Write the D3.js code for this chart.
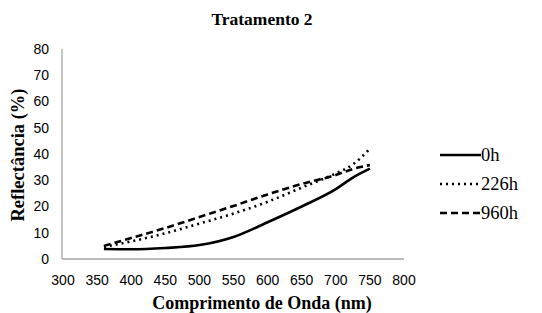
<!DOCTYPE html>
<html>
<head>
<meta charset="utf-8">
<script src="https://cdn.jsdelivr.net/npm/d3@7"></script>
<style>
  body { margin: 0; background: #fff; }
</style>
</head>
<body>
<div id="chart"></div>
<script>
// Data
const wavelengths = [360, 400, 450, 500, 550, 600, 650, 700, 725, 750];
const series0h   = [3.8, 3.7, 4.2, 5.3, 8.4, 14.0, 20.0, 26.6, 31.0, 34.4];
const series226h = [4.6, 6.7, 9.8, 13.5, 17.3, 21.8, 27.2, 32.6, 36.0, 42.0];
const series960h = [5.0, 8.0, 11.8, 16.0, 20.2, 24.6, 28.6, 32.0, 34.3, 35.8];
const xTicks = [300, 350, 400, 450, 500, 550, 600, 650, 700, 750, 800];
const yTicks = [0, 10, 20, 30, 40, 50, 60, 70, 80];
const seriesNames = ["0h", "226h", "960h"];
const dashes = [null, "2,4", "7,4"];

const width = 542;
const height = 313;

const svg = d3.select("#chart")
    .append("svg")
    .attr("width", width)
    .attr("height", height);

// Scales
const x = d3.scaleLinear().domain([300, 800]).range([63, 404]);
const y = d3.scaleLinear().domain([0, 80]).range([259, 49]);

// Axis lines
svg.append("line")
    .attr("x1", x(300) - 1).attr("x2", x(800))
    .attr("y1", y(0)).attr("y2", y(0))
    .style("stroke", "#a6a6a6").style("stroke-width", 1.3);
svg.append("line")
    .attr("x1", x(300) - 1).attr("x2", x(300) - 1)
    .attr("y1", y(0)).attr("y2", y(80))
    .style("stroke", "#a6a6a6").style("stroke-width", 1.3);

// Tick labels
svg.append("g")
    .selectAll("text")
    .data(xTicks)
    .enter().append("text")
    .attr("x", d => x(d))
    .attr("y", 285)
    .attr("text-anchor", "middle")
    .style("font-family", "'Liberation Sans', Arial, sans-serif")
    .style("font-size", "14px")
    .style("fill", "#000")
    .text(d => d);

svg.append("g")
    .selectAll("text")
    .data(yTicks)
    .enter().append("text")
    .attr("x", 49)
    .attr("y", d => y(d))
    .attr("dy", "0.35em")
    .attr("text-anchor", "end")
    .style("font-family", "'Liberation Sans', Arial, sans-serif")
    .style("font-size", "14px")
    .style("fill", "#000")
    .text(d => d);

// Titles
svg.append("text")
    .attr("x", 262).attr("y", 25)
    .attr("text-anchor", "middle")
    .style("font-family", "'Liberation Serif', 'Times New Roman', serif")
    .style("font-weight", "bold")
    .style("font-size", "17.5px")
    .text("Tratamento 2");

svg.append("text")
    .attr("x", 262).attr("y", 309)
    .attr("text-anchor", "middle")
    .style("font-family", "'Liberation Serif', 'Times New Roman', serif")
    .style("font-weight", "bold")
    .style("font-size", "18px")
    .text("Comprimento de Onda (nm)");

svg.append("text")
    .attr("transform", "translate(24,155) rotate(-90)")
    .attr("text-anchor", "middle")
    .style("font-family", "'Liberation Serif', 'Times New Roman', serif")
    .style("font-weight", "bold")
    .style("font-size", "18.5px")
    .text("Reflectância (%)");

// Lines
const allSeries = [series0h, series226h, series960h];
const line = d3.line()
    .x((d, i) => x(wavelengths[i]))
    .y(d => y(d))
    .curve(d3.curveMonotoneX);

svg.append("g")
    .selectAll("path")
    .data(allSeries)
    .enter().append("path")
    .attr("d", d => line(d))
    .style("fill", "none")
    .style("stroke", "#000")
    .style("stroke-width", 2.6)
    .style("stroke-dasharray", (d, i) => dashes[i]);

// Legend
const legend = svg.append("g")
    .selectAll("g")
    .data(seriesNames)
    .enter().append("g")
    .attr("transform", (d, i) => `translate(440, ${155 + i * 29})`);

legend.append("line")
    .attr("x1", 0).attr("x2", 41)
    .attr("y1", 0).attr("y2", 0)
    .style("stroke", "#000")
    .style("stroke-width", 2.6)
    .style("stroke-dasharray", (d, i) => dashes[i]);

legend.append("text")
    .attr("x", 41)
    .attr("y", 0)
    .attr("dy", "0.35em")
    .style("font-family", "'Liberation Serif', 'Times New Roman', serif")
    .style("font-size", "18.5px")
    .text(d => d);
</script>
</body>
</html>
